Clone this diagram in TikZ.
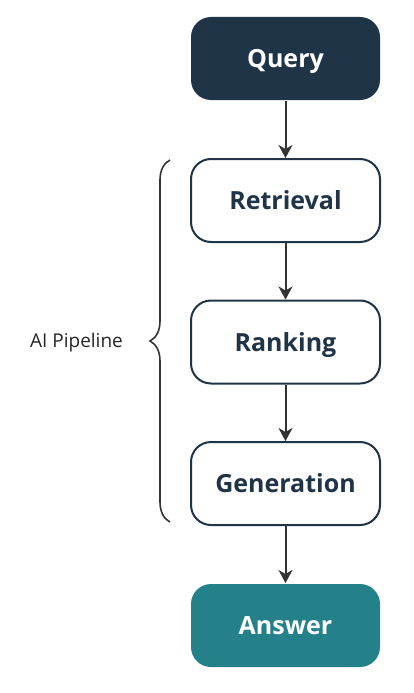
\documentclass[tikz,border=0pt]{standalone}
\usepackage{fontspec}
\setmainfont{Open Sans}
\usetikzlibrary{arrows.meta,decorations.pathreplacing}
\definecolor{navy}{HTML}{1F3447}
\definecolor{teal}{HTML}{24818A}
\definecolor{arrowgray}{HTML}{333333}
\begin{document}
\begin{tikzpicture}[x=1pt,y=-1pt,
  box/.style={rounded corners=20pt,minimum width=189pt,minimum height=83pt,line width=2pt,inner sep=0pt,text height=18pt,text depth=0pt,font=\fontsize{25}{30}\selectfont\bfseries},
  stagebox/.style={box,draw=navy,fill=white,text=navy},
  endbox/.style={box,text=white},
  flow/.style={draw=arrowgray,line width=2pt,-{Stealth[length=13pt,width=14pt,inset=4pt]}}]
\useasboundingbox (0,0) rectangle (414,693);
\node[endbox,fill=navy] (query) at (285.5,58.5) {Query};
\node[stagebox] (retrieval) at (285.5,200.5) {Retrieval};
\node[stagebox] (ranking) at (285.5,342) {Ranking};
\node[stagebox] (generation) at (285.5,483.5) {Generation};
\node[endbox,fill=teal] (answer) at (285.5,625.5) {Answer};
\draw[flow] (query) -- (retrieval);
\draw[flow] (retrieval) -- (ranking);
\draw[flow] (ranking) -- (generation);
\draw[flow] (generation) -- (answer);
\coordinate (bb) at (170,522);
\coordinate (bt) at (170,160);
\draw[draw=arrowgray,line width=1.6pt,decorate,decoration={brace,amplitude=20pt}] (bb) -- (bt);
\node[font=\fontsize{19}{23}\selectfont,text=black!85,anchor=center] (label) at (76.5,343) {AI Pipeline};
\end{tikzpicture}
\end{document}
